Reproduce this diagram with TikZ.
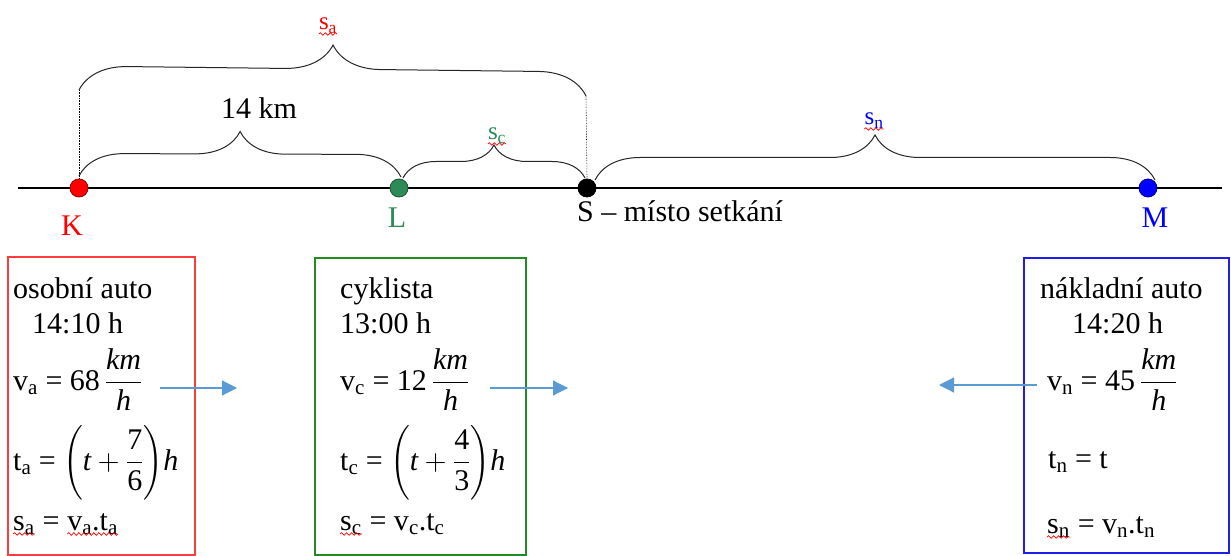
\documentclass[tikz,border=0pt]{standalone}
\usepackage{fix-cm}
\usepackage{amsmath}
\usepackage{fontspec}
\setmainfont{Liberation Serif}
\usetikzlibrary{decorations.pathreplacing,decorations.pathmorphing,arrows.meta,calc}
\definecolor{myred}{RGB}{255,0,0}
\definecolor{mygreen}{RGB}{46,139,87}
\definecolor{myblue}{RGB}{0,0,255}
\definecolor{boxred}{RGB}{255,60,60}
\definecolor{boxgreen}{RGB}{34,139,34}
\definecolor{boxblue}{RGB}{30,30,230}
\definecolor{arrblue}{RGB}{91,155,213}
\begin{document}
\begin{tikzpicture}[x=1pt,y=-1pt,
  font=\fontsize{30}{36}\selectfont,
  txt/.style={anchor=base west,inner sep=0pt},
  ctxt/.style={anchor=base,inner sep=0pt},
  small/.style={anchor=base,inner sep=0pt,font=\fontsize{25}{30}\selectfont},
  dot/.style={circle,inner sep=0pt,minimum size=18pt,line width=0.8pt},
  bracestyle/.style={decorate,decoration={brace,amplitude=#1,aspect=0.5},line width=1pt,draw=black!85},
  squig/.style={draw=red,line width=0.7pt,decorate,decoration={snake,amplitude=1.3pt,segment length=5pt}},
  arr/.style={draw=arrblue,line width=1.2pt,-{Triangle[length=15pt,width=15pt]}},
  axis/.style={line width=1.3pt}
]
\useasboundingbox (0,0) rectangle (1231,556);

% main line
\coordinate (La) at (18,188);
\coordinate (Lb) at (1222,188);
\draw[axis] (La) -- (Lb);

% points
\node[dot,fill=myred,draw=red!60!black] (K) at (79,188) {};
\node[dot,fill=mygreen,draw=mygreen!60!black] (L) at (399,188) {};
\node[dot,fill=black,draw=black] (S) at (587,188) {};
\node[dot,fill=myblue,draw=myblue!60!black] (M) at (1148,188) {};

% point labels
\node[ctxt,text=myred] (Klab) at (72,235) {K};
\node[ctxt,text=mygreen] (Llab) at (397,227) {L};
\node[txt] (Slab) at (577,222) {S -- místo setkání};
\node[ctxt,text=myblue] (Mlab) at (1155,228) {M};

% brace end coordinates
\coordinate (b1s) at (79,176);
\coordinate (b1e) at (401,177);
\coordinate (b2s) at (403,178);
\coordinate (b2e) at (585,178);
\coordinate (b3s) at (595,180);
\coordinate (b3e) at (1155,180);
\coordinate (b4s) at (79,90);
\coordinate (b4e) at (586,96);

\draw[bracestyle=45pt] (b1s) -- (b1e);
\draw[bracestyle=33pt] (b2s) -- (b2e);
\draw[bracestyle=45pt] (b3s) -- (b3e);
\draw[bracestyle=48pt] (b4s) -- (b4e);

% dotted verticals
\draw[densely dotted,line width=0.6pt] (b4s) -- (K.north);
\draw[densely dotted,line width=0.6pt] (b4e) -- (S.north);

% brace labels
\node[ctxt] (km) at (259,119) {14 km};
\node[small,text=myred] (lsa) at (328,30) {s\textsubscript{a}};
\node[small,text=mygreen] (lsc) at (497,140) {s\textsubscript{c}};
\node[small,text=myblue] (lsn) at (874,125) {s\textsubscript{n}};
\draw[squig] ($(lsa.base west)+(0,4)$) -- ($(lsa.base east)+(0,4)$);
\draw[squig] ($(lsc.base west)+(0,4)$) -- ($(lsc.base east)+(0,4)$);
\draw[squig] ($(lsn.base west)+(0,4)$) -- ($(lsn.base east)+(0,4)$);

% boxes
\draw[boxred,line width=1.2pt] (8,257) rectangle (195,555);
\draw[boxgreen,line width=1.2pt] (315,258) rectangle (526,555);
\draw[boxblue,line width=1.2pt] (1024,258) rectangle (1229,553);

% red box text
\node[txt] (a1) at (13,298) {osobní auto};
\node[txt] (a2) at (32,333) {14:10 h};
\node[txt] (a3) at (13,390) {v\textsubscript{a} = 68\,$\dfrac{\textit{km}}{\textit{h}}$};
\node[txt] (a4) at (13,470) {t\textsubscript{a} = $\left(\textit{t}+\dfrac{\text{7}}{\text{6}}\right)\!\textit{h}$};
\node[txt] (a5) at (13,530) {s\textsubscript{a}};
\node[txt] (a6) at (a5.base east) {~=~\null};
\node[txt] (a7) at (a6.base east) {v\textsubscript{a}.t\textsubscript{a}};
\draw[squig] ($(a5.base west)+(0,4)$) -- ($(a5.base east)+(0,4)$);
\draw[squig] ($(a7.base west)+(0,4)$) -- ($(a7.base east)+(0,4)$);

% green box text
\node[txt] (c1) at (340,298) {cyklista};
\node[txt] (c2) at (340,333) {13:00 h};
\node[txt] (c3) at (340,390) {v\textsubscript{c} = 12\,$\dfrac{\textit{km}}{\textit{h}}$};
\node[txt] (c4) at (340,470) {t\textsubscript{c} = $\left(\textit{t}+\dfrac{\text{4}}{\text{3}}\right)\!\textit{h}$};
\node[txt] (c5) at (340,530) {s\textsubscript{c}};
\node[txt] (c6) at (c5.base east) {~=~v\textsubscript{c}.t\textsubscript{c}};
\draw[squig] ($(c5.base west)+(0,4)$) -- ($(c5.base east)+(0,4)$);

% blue box text
\node[txt] (n1) at (1040,298) {nákladní auto};
\node[txt] (n2) at (1072,333) {14:20 h};
\node[txt] (n3) at (1047,390) {v\textsubscript{n} = 45\,$\dfrac{\textit{km}}{\textit{h}}$};
\node[txt] (n4) at (1048,468) {t\textsubscript{n} = t};
\node[txt] (n5) at (1047,533) {s\textsubscript{n}};
\node[txt] (n6) at (n5.base east) {~=~v\textsubscript{n}.t\textsubscript{n}};
\draw[squig] ($(n5.base west)+(0,4)$) -- ($(n5.base east)+(0,4)$);

% arrows
\coordinate (ar1s) at (160,388);
\coordinate (ar1e) at (237,388);
\coordinate (ar2s) at (490,388);
\coordinate (ar2e) at (568,388);
\coordinate (ar3s) at (1037,385);
\coordinate (ar3e) at (939,385);
\draw[arr] (ar1s) -- (ar1e);
\draw[arr] (ar2s) -- (ar2e);
\draw[arr] (ar3s) -- (ar3e);
\end{tikzpicture}
\end{document}
